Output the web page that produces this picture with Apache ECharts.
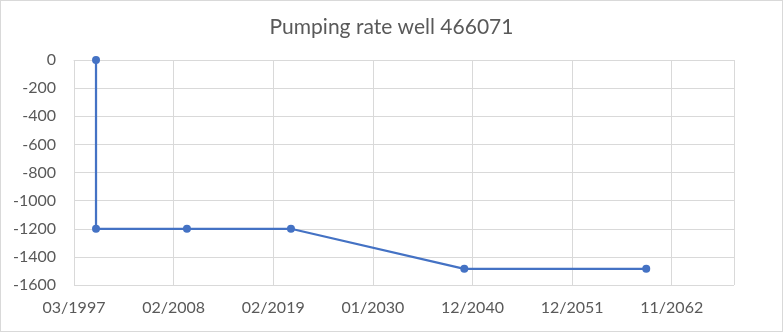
<!DOCTYPE html>
<html><head><meta charset="utf-8">
<script src="https://cdn.jsdelivr.net/npm/echarts@6/dist/echarts.min.js"></script>
<style>
html,body{margin:0;padding:0;background:#fff;}
#c{width:781px;height:330px;border:1px solid #d9d9d9;}
</style></head>
<body><div id="c"></div>
<script>
var dates = ['1999-08-12', '1999-08-12', '2009-08-10', '2021-01-15', '2040-02-05', '2060-02-05'];
var rates = [0, -1200, -1200, -1200, -1485, -1485];
var title = 'Pumping rate well 466071';

function serial(s){ return Date.parse(s + 'T00:00:00Z') / 86400000 + 25569; }
function fmt(v){
  var d = new Date((v - 25569) * 86400000);
  var m = d.getUTCMonth() + 1;
  return (m < 10 ? '0' + m : m) + '/' + d.getUTCFullYear();
}
var data = dates.map(function(d, i){ return [serial(d), rates[i]]; });

var chart = echarts.init(document.getElementById('c'));
chart.setOption({
  animation: false,
  title: {text: title, left: 'center', top: 11,
    textStyle: {fontFamily: 'Lato', fontSize: 21, fontWeight: 'normal', color: '#595959'}},
  grid: {left: 73, right: 48, top: 59, bottom: 46},
  xAxis: {type: 'value', min: 35500, max: 62000, interval: 4000,
    axisLine: {show: true, lineStyle: {color: '#d9d9d9'}},
    axisTick: {show: false},
    splitLine: {show: true, lineStyle: {color: '#d9d9d9'}},
    axisLabel: {formatter: fmt, margin: 15, color: '#595959', fontFamily: 'Lato', fontSize: 16,
      showMaxLabel: false}},
  yAxis: {type: 'value', min: -1600, max: 0, interval: 200,
    axisLine: {show: false}, axisTick: {show: false},
    splitLine: {lineStyle: {color: '#d9d9d9'}},
    axisLabel: {margin: 18, color: '#595959', fontFamily: 'Lato', fontSize: 16,
      formatter: function(v){ return String(v); }}},
  series: [{type: 'line', data: data, symbol: 'circle', symbolSize: 8,
    lineStyle: {color: '#4472C4', width: 2.25},
    itemStyle: {color: '#4472C4'}}]
});
</script></body></html>
